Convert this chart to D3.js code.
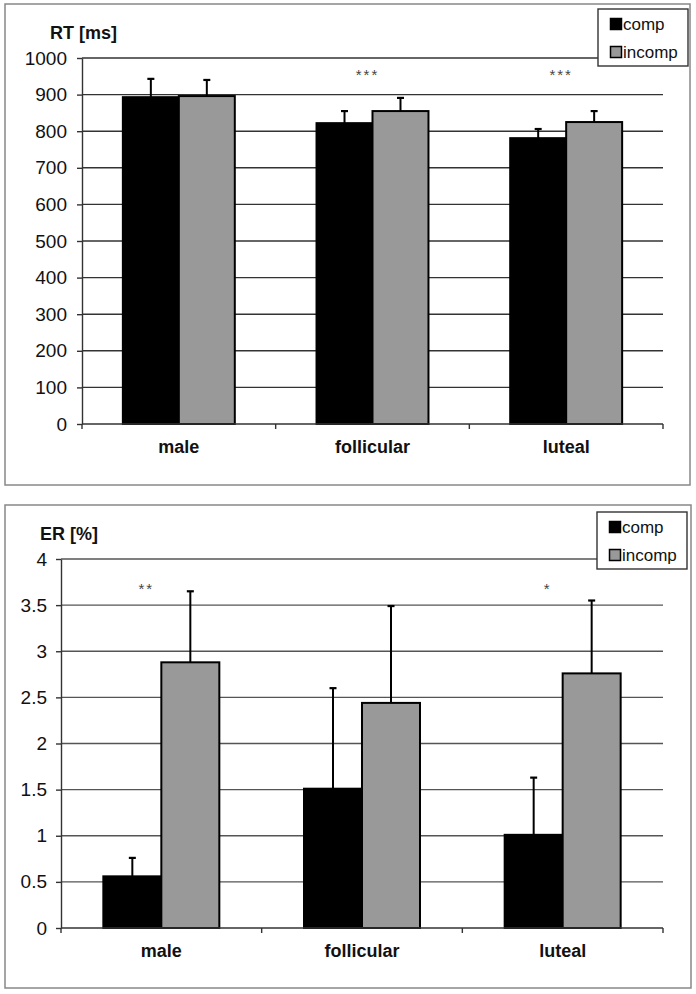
<!DOCTYPE html>
<html><head><meta charset="utf-8">
<script src="https://cdn.jsdelivr.net/npm/d3@7"></script>
<style>body{margin:0;background:#fff}svg{display:block}text{font-family:"Liberation Sans",Arial,sans-serif}</style>
</head><body>
<svg id="c" width="696" height="994"></svg>
<script>
const categories = ["male", "follicular", "luteal"];
const series = ["comp", "incomp"];
const rtComp = [893, 822, 781];
const rtIncomp = [896, 855, 825];
const rtCompErr = [943, 855, 806];
const rtIncompErr = [940, 891, 855];
const rtTicks = [0,100,200,300,400,500,600,700,800,900,1000];
const rtStars = ["", "***", "***"];
const erComp = [0.56, 1.51, 1.01];
const erIncomp = [2.88, 2.44, 2.76];
const erCompErr = [0.76, 2.60, 1.63];
const erIncompErr = [3.65, 3.49, 3.55];
const erTicks = [0,0.5,1,1.5,2,2.5,3,3.5,4];
const erStars = ["**", "", "*"];
const colors = {comp: "#000", incomp: "#999"};

const svg = d3.select("#c");

function panel(o) {
  const g = svg.append("g");
  g.append("rect").attr("x", o.box[0]).attr("y", o.box[1]).attr("width", o.box[2]).attr("height", o.box[3])
    .attr("fill", "#fff").attr("stroke", "#888").attr("stroke-width", 1.5);
  const y = d3.scaleLinear().domain([0, o.max]).range([o.bottom, o.top]);
  const x0 = d3.scaleBand().domain(categories).range([o.left, o.right]).padding(0);
  const x1 = d3.scaleBand().domain(series).range([0, x0.bandwidth()]).paddingInner(0).paddingOuter(0.73);
  // grid
  g.selectAll("line.grid").data(o.ticks.slice(1)).join("line")
    .attr("x1", o.left).attr("x2", o.right).attr("y1", d => y(d)).attr("y2", d => y(d))
    .attr("stroke", o.gridColor).attr("stroke-width", 1.4);
  // y axis
  const ya = g.append("g").attr("transform", `translate(${o.left},0)`)
    .call(d3.axisLeft(y).tickValues(o.ticks).tickSize(5).tickSizeOuter(0).tickPadding(o.tickPad).tickFormat(d => String(d)));
  ya.select(".domain").attr("stroke", "#333").attr("stroke-width", 1.4);
  ya.selectAll(".tick line").attr("stroke", "#333").attr("stroke-width", 1.4);
  ya.selectAll(".tick text").attr("font-size", 19).attr("font-family", "Liberation Sans, Arial, sans-serif").attr("fill", "#111");
  // bars
  const data = categories.map((c, i) => ({c, vals: [
    {s: "comp", v: o.comp[i], e: o.compErr[i]},
    {s: "incomp", v: o.incomp[i], e: o.incompErr[i]}]}));
  const cg = g.selectAll("g.cat").data(data).join("g").attr("transform", d => `translate(${x0(d.c)},0)`);
  cg.selectAll("line.err").data(d => d.vals).join("line")
    .attr("x1", d => x1(d.s) + x1.bandwidth()/2).attr("x2", d => x1(d.s) + x1.bandwidth()/2)
    .attr("y1", d => y(d.v)).attr("y2", d => y(d.e)).attr("stroke", "#000").attr("stroke-width", 2);
  cg.selectAll("line.cap").data(d => d.vals).join("line")
    .attr("x1", d => x1(d.s) + x1.bandwidth()/2 - 3.5).attr("x2", d => x1(d.s) + x1.bandwidth()/2 + 3.5)
    .attr("y1", d => y(d.e)).attr("y2", d => y(d.e)).attr("stroke", "#000").attr("stroke-width", 2.2);
  cg.selectAll("rect").data(d => d.vals).join("rect")
    .attr("x", d => x1(d.s)).attr("width", x1.bandwidth())
    .attr("y", d => y(d.v)).attr("height", d => y(0) - y(d.v))
    .attr("fill", d => colors[d.s]).attr("stroke", "#000").attr("stroke-width", 2);
  // x axis
  const xa = g.append("g").attr("transform", `translate(0,${o.bottom})`);
  xa.append("line").attr("x1", o.left).attr("x2", o.right).attr("stroke", "#333").attr("stroke-width", 1.4);
  const bounds = categories.map(c => x0(c)).concat([o.right]);
  xa.selectAll("line.t").data(bounds).join("line").attr("class", "t").attr("x1", d => d).attr("x2", d => d).attr("y1", 0).attr("y2", 5)
    .attr("stroke", "#333").attr("stroke-width", 1.4);
  xa.selectAll("text.cat").data(categories).join("text").attr("class", "cat")
    .attr("x", d => x0(d) + x0.bandwidth()/2).attr("y", o.catY - o.bottom).attr("text-anchor", "middle")
    .attr("font-size", 18).attr("font-weight", "bold").attr("fill", "#111").text(d => d);
  // stars
  g.selectAll("text.star").data(o.stars.map((s, i) => ({s, c: categories[i]})).filter(d => d.s)).join("text")
    .attr("class", "star")
    .attr("x", d => x0(d.c) + x0.bandwidth()/2 + o.starDx).attr("y", o.starY)
    .attr("text-anchor", "middle").attr("font-size", 15).attr("letter-spacing", 2).attr("fill", "#444").text(d => d.s);
  // title
  g.append("text").attr("x", o.titleX).attr("y", o.titleY).attr("font-size", 18).attr("font-weight", "bold").attr("fill", "#111").text(o.title);
  // legend
  const lg = g.append("g").attr("transform", `translate(${o.legend[0]},${o.legend[1]})`);
  lg.append("rect").attr("width", 90).attr("height", 57).attr("fill", "#fff").attr("stroke", "#333").attr("stroke-width", 1.4);
  series.forEach((s, i) => {
    lg.append("rect").attr("x", 12.5).attr("y", 9.5 + i*28).attr("width", 11).attr("height", 11)
      .attr("fill", colors[s]).attr("stroke", "#000").attr("stroke-width", 1.5);
    lg.append("text").attr("x", 25).attr("y", 21 + i*28).attr("font-size", 17).attr("fill", "#111").text(s);
  });
}

panel({box: [5, 4, 685, 481], top: 58, bottom: 424, left: 82, right: 663, max: 1000,
  ticks: rtTicks, comp: rtComp, incomp: rtIncomp, compErr: rtCompErr, incompErr: rtIncompErr,
  gridColor: "#333", catY: 453, stars: rtStars, starY: 80, starDx: -5, tickPad: 10,
  title: "RT [ms]", titleX: 50, titleY: 39, legend: [598, 9]});

panel({box: [5, 505, 686, 483], top: 559, bottom: 928, left: 61, right: 663, max: 4,
  ticks: erTicks, comp: erComp, incomp: erIncomp, compErr: erCompErr, incompErr: erIncompErr,
  gridColor: "#555", catY: 957, stars: erStars, starY: 594, starDx: -15, tickPad: 9,
  title: "ER [%]", titleX: 40, titleY: 540, legend: [597, 512]});
</script>
</body></html>
